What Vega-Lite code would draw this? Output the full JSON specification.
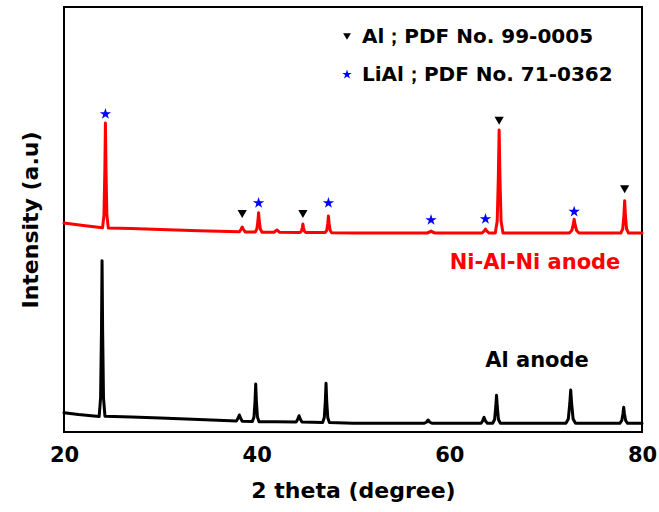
{
  "$schema": "https://vega.github.io/schema/vega-lite/v6.json",
  "width": 578,
  "height": 425,
  "autosize": {"type": "none"},
  "padding": {"left": 64, "top": 7, "right": 17, "bottom": 80},
  "background": "white",
  "config": {
    "view": {"stroke": "#000000", "strokeWidth": 2},
    "font": "DejaVu Sans",
    "axis": {"grid": false, "domain": false, "ticks": false, "labelFont": "DejaVu Sans", "labelFontWeight": "bold", "labelColor": "#000000", "titleFont": "DejaVu Sans", "titleFontWeight": "bold", "titleColor": "#000000"}
  },
  "datasets": {
    "ni": [
      {"theta": 20.0, "intensity": 2090}, {"theta": 22.0, "intensity": 2065}, {"theta": 24.0, "intensity": 2042},
      {"theta": 24.15, "intensity": 2168}, {"theta": 24.24, "intensity": 2618}, {"theta": 24.3, "intensity": 3090},
      {"theta": 24.36, "intensity": 2618}, {"theta": 24.45, "intensity": 2168}, {"theta": 24.6, "intensity": 2040},
      {"theta": 27.0, "intensity": 2035}, {"theta": 30.0, "intensity": 2025}, {"theta": 34.0, "intensity": 2012},
      {"theta": 38.2, "intensity": 2002}, {"theta": 38.4, "intensity": 2030}, {"theta": 38.5, "intensity": 2050},
      {"theta": 38.6, "intensity": 2030}, {"theta": 38.8, "intensity": 2001},
      {"theta": 39.85, "intensity": 2000}, {"theta": 40.02, "intensity": 2030}, {"theta": 40.13, "intensity": 2110},
      {"theta": 40.2, "intensity": 2193}, {"theta": 40.27, "intensity": 2110}, {"theta": 40.38, "intensity": 2030},
      {"theta": 40.55, "intensity": 1998}, {"theta": 41.8, "intensity": 1998}, {"theta": 42.1, "intensity": 2020},
      {"theta": 42.4, "intensity": 1997},
      {"theta": 44.5, "intensity": 1995}, {"theta": 44.65, "intensity": 2010}, {"theta": 44.74, "intensity": 2045},
      {"theta": 44.8, "intensity": 2080}, {"theta": 44.86, "intensity": 2045}, {"theta": 44.95, "intensity": 2010},
      {"theta": 45.1, "intensity": 1995},
      {"theta": 47.1, "intensity": 1994}, {"theta": 47.27, "intensity": 2015}, {"theta": 47.38, "intensity": 2085},
      {"theta": 47.45, "intensity": 2160}, {"theta": 47.52, "intensity": 2085}, {"theta": 47.63, "intensity": 2015},
      {"theta": 47.8, "intensity": 1992}, {"theta": 50.0, "intensity": 1990}, {"theta": 55.0, "intensity": 1990},
      {"theta": 57.7, "intensity": 1990}, {"theta": 57.95, "intensity": 2000}, {"theta": 58.1, "intensity": 2010},
      {"theta": 58.25, "intensity": 2000}, {"theta": 58.5, "intensity": 1990},
      {"theta": 63.4, "intensity": 1990}, {"theta": 63.6, "intensity": 2008}, {"theta": 63.75, "intensity": 2030},
      {"theta": 63.9, "intensity": 2008}, {"theta": 64.1, "intensity": 1990},
      {"theta": 64.77, "intensity": 1990}, {"theta": 64.97, "intensity": 2110}, {"theta": 65.09, "intensity": 2560},
      {"theta": 65.17, "intensity": 3020}, {"theta": 65.25, "intensity": 2560}, {"theta": 65.37, "intensity": 2110},
      {"theta": 65.57, "intensity": 1990}, {"theta": 70.0, "intensity": 1990},
      {"theta": 72.46, "intensity": 1990}, {"theta": 72.71, "intensity": 2015}, {"theta": 72.86, "intensity": 2070},
      {"theta": 72.96, "intensity": 2127}, {"theta": 73.06, "intensity": 2070}, {"theta": 73.21, "intensity": 2015},
      {"theta": 73.46, "intensity": 1990}, {"theta": 77.0, "intensity": 1990},
      {"theta": 77.8, "intensity": 1990}, {"theta": 78.0, "intensity": 2030}, {"theta": 78.12, "intensity": 2160},
      {"theta": 78.2, "intensity": 2313}, {"theta": 78.28, "intensity": 2160}, {"theta": 78.4, "intensity": 2030},
      {"theta": 78.6, "intensity": 1990}, {"theta": 80.0, "intensity": 1990}
    ],
    "al": [
      {"theta": 20.0, "intensity": 193}, {"theta": 21.5, "intensity": 175}, {"theta": 23.65, "intensity": 155},
      {"theta": 23.8, "intensity": 344}, {"theta": 23.89, "intensity": 1013}, {"theta": 23.95, "intensity": 1713},
      {"theta": 24.01, "intensity": 1013}, {"theta": 24.1, "intensity": 344}, {"theta": 24.25, "intensity": 158},
      {"theta": 27.0, "intensity": 150}, {"theta": 30.0, "intensity": 140}, {"theta": 34.0, "intensity": 125},
      {"theta": 37.9, "intensity": 110}, {"theta": 38.05, "intensity": 135}, {"theta": 38.2, "intensity": 170},
      {"theta": 38.35, "intensity": 135}, {"theta": 38.5, "intensity": 108},
      {"theta": 39.55, "intensity": 105}, {"theta": 39.72, "intensity": 150}, {"theta": 39.83, "intensity": 310},
      {"theta": 39.9, "intensity": 480}, {"theta": 39.97, "intensity": 310}, {"theta": 40.08, "intensity": 150},
      {"theta": 40.25, "intensity": 103}, {"theta": 42.0, "intensity": 102},
      {"theta": 44.1, "intensity": 100}, {"theta": 44.25, "intensity": 125}, {"theta": 44.4, "intensity": 163},
      {"theta": 44.55, "intensity": 125}, {"theta": 44.7, "intensity": 99},
      {"theta": 46.85, "intensity": 96}, {"theta": 47.02, "intensity": 145}, {"theta": 47.13, "intensity": 310},
      {"theta": 47.2, "intensity": 487}, {"theta": 47.27, "intensity": 310}, {"theta": 47.38, "intensity": 145},
      {"theta": 47.55, "intensity": 94}, {"theta": 50.0, "intensity": 87}, {"theta": 55.0, "intensity": 87},
      {"theta": 57.4, "intensity": 87}, {"theta": 57.65, "intensity": 100}, {"theta": 57.8, "intensity": 120},
      {"theta": 57.95, "intensity": 100}, {"theta": 58.2, "intensity": 87},
      {"theta": 63.3, "intensity": 87}, {"theta": 63.45, "intensity": 110}, {"theta": 63.6, "intensity": 147},
      {"theta": 63.75, "intensity": 110}, {"theta": 63.95, "intensity": 88},
      {"theta": 64.5, "intensity": 87}, {"theta": 64.7, "intensity": 125}, {"theta": 64.82, "intensity": 250},
      {"theta": 64.9, "intensity": 367}, {"theta": 64.98, "intensity": 250}, {"theta": 65.1, "intensity": 125},
      {"theta": 65.3, "intensity": 87}, {"theta": 70.0, "intensity": 87},
      {"theta": 72.1, "intensity": 87}, {"theta": 72.35, "intensity": 130}, {"theta": 72.5, "intensity": 280},
      {"theta": 72.6, "intensity": 420}, {"theta": 72.7, "intensity": 280}, {"theta": 72.85, "intensity": 130},
      {"theta": 73.1, "intensity": 87}, {"theta": 77.5, "intensity": 87},
      {"theta": 77.7, "intensity": 87}, {"theta": 77.9, "intensity": 115}, {"theta": 78.02, "intensity": 180},
      {"theta": 78.1, "intensity": 247}, {"theta": 78.18, "intensity": 180}, {"theta": 78.3, "intensity": 115},
      {"theta": 78.5, "intensity": 87}, {"theta": 80.0, "intensity": 87}
    ],
    "markers": [
      {"theta": 24.3, "intensity": 3180, "phase": "LiAl；PDF No. 71-0362"},
      {"theta": 40.2, "intensity": 2290, "phase": "LiAl；PDF No. 71-0362"},
      {"theta": 47.45, "intensity": 2290, "phase": "LiAl；PDF No. 71-0362"},
      {"theta": 58.1, "intensity": 2120, "phase": "LiAl；PDF No. 71-0362"},
      {"theta": 63.75, "intensity": 2130, "phase": "LiAl；PDF No. 71-0362"},
      {"theta": 72.96, "intensity": 2203, "phase": "LiAl；PDF No. 71-0362"},
      {"theta": 38.5, "intensity": 2180, "phase": "Al；PDF No. 99-0005"},
      {"theta": 44.8, "intensity": 2180, "phase": "Al；PDF No. 99-0005"},
      {"theta": 65.17, "intensity": 3113, "phase": "Al；PDF No. 99-0005"},
      {"theta": 78.2, "intensity": 2427, "phase": "Al；PDF No. 99-0005"}
    ]
  },
  "layer": [
    {"data": {"name": "ni"}, "mark": {"type": "line", "color": "#ff0000", "strokeWidth": 3, "strokeJoin": "round", "strokeCap": "round"},
      "encoding": {
        "x": {"field": "theta", "type": "quantitative", "scale": {"domain": [20, 80], "nice": false, "zero": false},
          "axis": {"title": "2 theta (degree)", "values": [20, 40, 60, 80], "labelFlush": false, "labelFontSize": 21, "labelPadding": 12, "titleFontSize": 22, "titlePadding": 15}},
        "y": {"field": "intensity", "type": "quantitative", "scale": {"domain": [0, 4250], "nice": false, "zero": false},
          "axis": {"title": "Intensity (a.u)", "labels": false, "titleFontSize": 22, "titlePadding": 22}}
      }},
    {"data": {"name": "al"}, "mark": {"type": "line", "color": "#000000", "strokeWidth": 3, "strokeJoin": "round", "strokeCap": "round"},
      "encoding": {
        "x": {"field": "theta", "type": "quantitative"},
        "y": {"field": "intensity", "type": "quantitative"}
      }},
    {"data": {"name": "markers"},
      "mark": {"type": "point", "filled": true, "opacity": 1, "size": 85, "strokeWidth": 0},
      "encoding": {
        "x": {"field": "theta", "type": "quantitative"},
        "y": {"field": "intensity", "type": "quantitative"},
        "shape": {"field": "phase", "type": "nominal",
          "scale": {"domain": ["Al；PDF No. 99-0005", "LiAl；PDF No. 71-0362"], "range": ["triangle-down", "M0,-1.3L0.292,-0.402L1.236,-0.402L0.472,0.153L0.764,1.052L0,0.497L-0.764,1.052L-0.472,0.153L-1.236,-0.402L-0.292,-0.402Z"]},
          "legend": {"title": null, "orient": "none", "legendX": 273, "legendY": 19.5, "padding": 0, "offset": 0, "labelFont": "DejaVu Sans", "labelFontWeight": "bold", "labelFontSize": 20, "labelColor": "#000000", "labelLimit": 0, "labelOffset": 5, "rowPadding": 18, "symbolSize": 60, "symbolStrokeWidth": 0}},
        "color": {"field": "phase", "type": "nominal",
          "scale": {"domain": ["Al；PDF No. 99-0005", "LiAl；PDF No. 71-0362"], "range": ["#000000", "#0000ff"]},
          "legend": {"title": null, "orient": "none", "legendX": 273, "legendY": 19.5, "padding": 0, "offset": 0, "labelFont": "DejaVu Sans", "labelFontWeight": "bold", "labelFontSize": 20, "labelColor": "#000000", "labelLimit": 0, "labelOffset": 5, "rowPadding": 18, "symbolSize": 60, "symbolStrokeWidth": 0}}
      }
    },
    {"data": {"values": [{"sample": "Ni-Al-Ni anode"}]},
      "mark": {"type": "text", "fill": "#ff0000", "font": "DejaVu Sans", "fontWeight": "bold", "fontSize": 21, "align": "center", "baseline": "middle"},
      "encoding": {"x": {"datum": 68.9, "type": "quantitative"}, "y": {"datum": 1690, "type": "quantitative"}, "text": {"field": "sample", "type": "nominal"}}},
    {"data": {"values": [{"sample": "Al anode"}]},
      "mark": {"type": "text", "fill": "#000000", "font": "DejaVu Sans", "fontWeight": "bold", "fontSize": 21, "align": "center", "baseline": "middle"},
      "encoding": {"x": {"datum": 69.1, "type": "quantitative"}, "y": {"datum": 710, "type": "quantitative"}, "text": {"field": "sample", "type": "nominal"}}}
  ]
}
